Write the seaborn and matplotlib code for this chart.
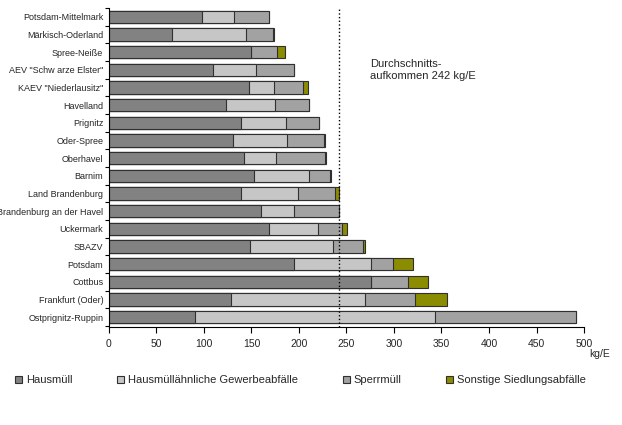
import numpy as np
import pandas as pd
import matplotlib
matplotlib.use("Agg")
import matplotlib.pyplot as plt
import seaborn as sns
from matplotlib.patches import Patch

# Data (kg per inhabitant)
regions = ["Potsdam-Mittelmark", "Märkisch-Oderland", "Spree-Neiße",
           'AEV "Schw arze Elster"', 'KAEV "Niederlausitz"', "Havelland",
           "Prignitz", "Oder-Spree", "Oberhavel", "Barnim", "Land Brandenburg",
           "Brandenburg an der Havel", "Uckermark", "SBAZV", "Potsdam",
           "Cottbus", "Frankfurt (Oder)", "Ostprignitz-Ruppin"]
hausmuell = [98, 66, 150, 110, 147, 123, 139, 131, 142, 153, 139, 160, 168, 148, 195, 276, 128, 91]
gewerbe = [34, 78, 0, 45, 27, 52, 47, 56, 34, 58, 60, 35, 52, 88, 81, 0, 141, 252]
sperrmuell = [37, 29, 27, 40, 30, 36, 35, 39, 51, 22, 39, 47, 25, 31, 23, 39, 53, 148]
sonstige = [0, 1, 8, 0, 6, 0, 0, 1, 2, 1, 4, 0, 6, 2, 21, 21, 34, 1]
series_names = ["Hausmüll", "Hausmüllähnliche Gewerbeabfälle", "Sperrmüll", "Sonstige Siedlungsabfälle"]
average = 242

colors = ["#828282", "#c6c6c6", "#a2a2a2", "#8c8c00"]

sns.set_style("white")
plt.rcParams['font.family'] = ['Liberation Sans', 'DejaVu Sans']

df = pd.DataFrame({"region": regions, "h": hausmuell, "g": gewerbe, "s": sperrmuell, "o": sonstige})
# cumulative totals, drawn from longest to shortest so they stack visually
df["c4"] = df[["h", "g", "s", "o"]].sum(axis=1)
df["c3"] = df[["h", "g", "s"]].sum(axis=1)
df["c2"] = df[["h", "g"]].sum(axis=1)
df["c1"] = df["h"]

fig = plt.figure(figsize=(6.22, 4.25), dpi=100)
ax = fig.add_axes([0.175, 0.231, 0.764, 0.75])

for col, c in zip(["c4", "c3", "c2", "c1"], colors[::-1]):
    sns.barplot(data=df, x=col, y="region", orient="h", color=c, width=0.7,
                edgecolor="#303030", linewidth=0.8, saturation=1, ax=ax)

ax.axvline(average, color="black", linestyle=":", linewidth=1)
ax.text(275, 3.0, "Durchschnitts-\naufkommen 242 kg/E", fontsize=8, va="center", ha="left")

ax.set_xlim(0, 500)
ax.set_xticks(np.arange(0, 501, 50))
ax.set_ylim(17.55, -0.5)
ax.set_yticks(np.arange(-0.5, 17.6, 1), minor=True)
ax.tick_params(axis="y", which="major", length=0, labelsize=6.5, pad=4)
ax.tick_params(axis="y", which="minor", length=3, width=0.8, color="black", left=True)
ax.tick_params(axis="x", length=4, width=0.8, color="black", labelsize=7.5, pad=5, bottom=True)
ax.set_ylabel("")
ax.set_xlabel("")
ax.text(1.055, -0.085, "kg/E", transform=ax.transAxes, fontsize=7.5, ha="right", va="center")
for sp in ["top", "right"]:
    ax.spines[sp].set_visible(False)
for sp in ["left", "bottom"]:
    ax.spines[sp].set_color("black")
    ax.spines[sp].set_linewidth(0.8)

handles = [Patch(facecolor=c, edgecolor="#303030", linewidth=0.8) for c in colors]
fig.legend(handles, series_names, loc="center left", bbox_to_anchor=(0.012, 0.106),
           ncol=4, frameon=False, fontsize=8, handlelength=0.6, handleheight=0.6,
           handletextpad=0.4, columnspacing=4.0, borderpad=0.2)

fig.savefig("out.png", dpi=100)
